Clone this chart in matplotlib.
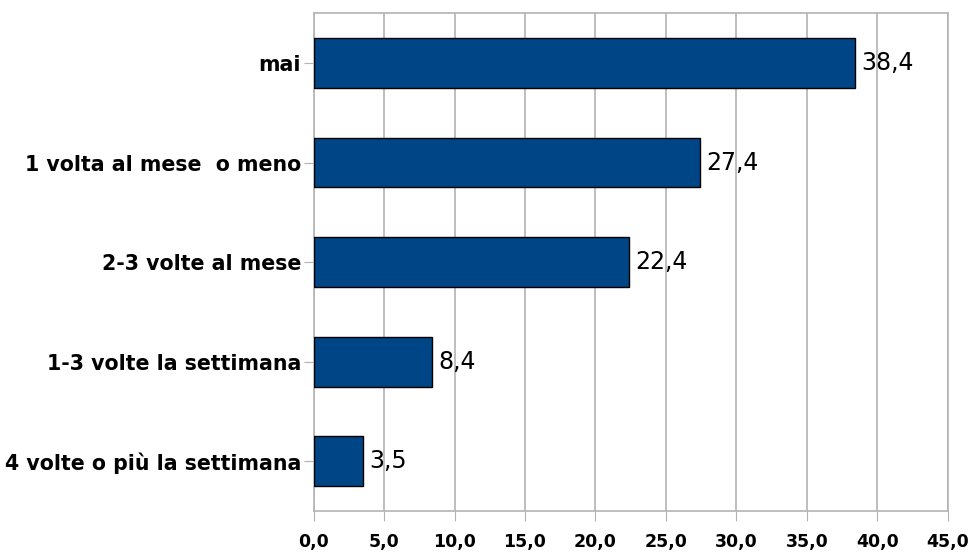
import matplotlib.pyplot as plt

categorie = ['mai', '1 volta al mese  o meno', '2-3 volte al mese',
             '1-3 volte la settimana', '4 volte o più la settimana']
valori = [38.4, 27.4, 22.4, 8.4, 3.5]
etichette = ['38,4', '27,4', '22,4', '8,4', '3,5']
tick_x = [0, 5, 10, 15, 20, 25, 30, 35, 40, 45]

fig = plt.figure(figsize=(9.74, 5.53), dpi=100)
ax = fig.add_axes([0.322, 0.076, 0.651, 0.900])

pos = list(range(len(categorie)))
ax.barh(pos, valori, height=0.5, color='#004586', edgecolor='black', linewidth=1, zorder=3)

for p, v, t in zip(pos, valori, etichette):
    ax.text(v + 0.45, p, t, va='center', ha='left', fontsize=17, zorder=4)

ax.set_xlim(0, 45)
ax.set_ylim(4.5, -0.5)
ax.set_xticks(tick_x)
ax.set_xticklabels([('%.1f' % x).replace('.', ',') for x in tick_x],
                   fontweight='bold', fontsize=12.5)
ax.set_yticks(pos)
ax.set_yticklabels(categorie, fontweight='bold', fontsize=14.8)

ax.grid(axis='x', color='#b3b3b3', linewidth=1.2, zorder=0)
for s in ax.spines.values():
    s.set_color('#b3b3b3')
    s.set_linewidth(1.2)
ax.tick_params(axis='x', length=7, color='#b3b3b3', pad=9)
ax.tick_params(axis='y', length=7, color='#b3b3b3', pad=2)

fig.savefig('out.png', dpi=100)
